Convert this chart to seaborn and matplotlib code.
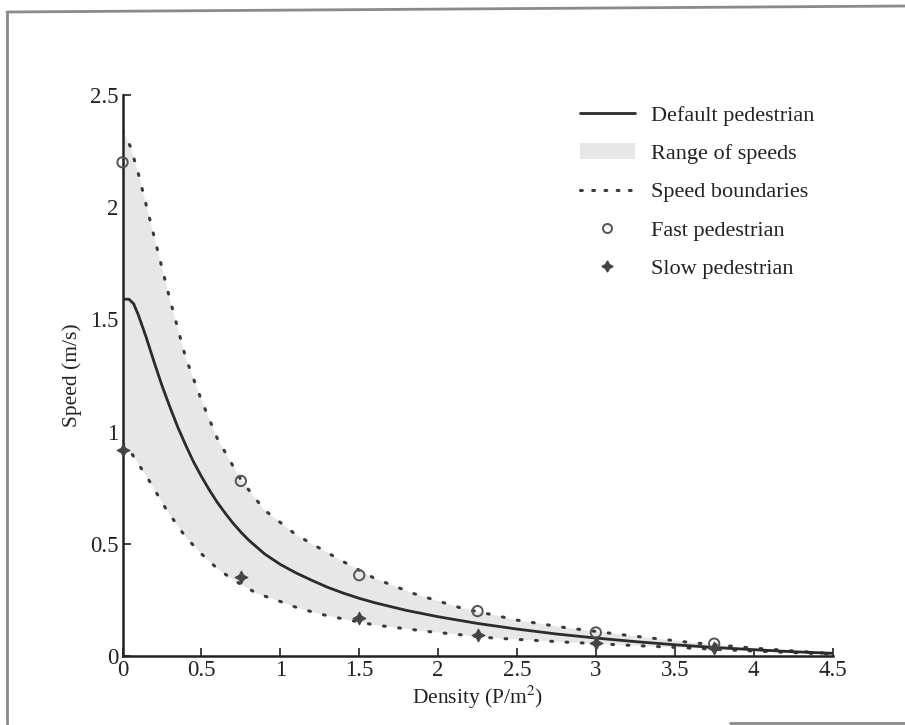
import numpy as np
import pandas as pd
import matplotlib
matplotlib.use("Agg")
import matplotlib.pyplot as plt
from matplotlib.lines import Line2D
from matplotlib.patches import Patch
import seaborn as sns

# default pedestrian curve
density = [0, 0.04, 0.07, 0.1, 0.15, 0.2, 0.25, 0.3, 0.35, 0.4, 0.45, 0.5, 0.55, 0.6, 0.65, 0.7, 0.75,
           0.8, 0.9, 1.0, 1.1, 1.2, 1.3, 1.4, 1.5, 1.6, 1.8, 2.0, 2.25, 2.5, 2.75, 3.0, 3.25, 3.5,
           3.75, 4.0, 4.25, 4.5]
speed = [1.59, 1.59, 1.57, 1.52, 1.42, 1.31, 1.205, 1.11, 1.02, 0.94, 0.865, 0.80, 0.74, 0.685, 0.637,
         0.592, 0.552, 0.516, 0.455, 0.408, 0.37, 0.337, 0.306, 0.28, 0.257, 0.237, 0.203, 0.175, 0.145,
         0.12, 0.098, 0.08, 0.064, 0.05, 0.038, 0.028, 0.019, 0.012]

# speed boundaries
d_upper = [0, 0.05, 0.1, 0.2, 0.3, 0.4, 0.5, 0.6, 0.75, 0.9, 1.1, 1.4, 1.6, 1.85, 2.15, 2.5, 2.8, 3.2, 3.6, 4.0, 4.5]
v_upper = [2.34, 2.27, 2.15, 1.87, 1.59, 1.33, 1.14, 0.97, 0.785, 0.65, 0.54, 0.42, 0.345, 0.277, 0.213, 0.16,
           0.127, 0.092, 0.06, 0.035, 0.01]
d_lower = [0, 0.06, 0.17, 0.28, 0.4, 0.5, 0.6, 0.7, 0.85, 1.0, 1.1, 1.25, 1.4, 1.6, 1.95, 2.35, 2.8, 3.2, 3.6, 4.0, 4.5]
v_lower = [0.95, 0.9, 0.78, 0.65, 0.53, 0.455, 0.39, 0.34, 0.279, 0.243, 0.217, 0.187, 0.165, 0.138, 0.108, 0.08,
           0.062, 0.048, 0.035, 0.022, 0.008]

# sample pedestrians
d_samples = [0, 0.75, 1.5, 2.25, 3.0, 3.75]
v_fast = [2.2, 0.78, 0.36, 0.2, 0.105, 0.055]
v_slow = [0.92, 0.35, 0.168, 0.095, 0.06, 0.035]

x_ticks = [0, 0.5, 1, 1.5, 2, 2.5, 3, 3.5, 4, 4.5]
y_ticks = [0, 0.5, 1, 1.5, 2, 2.5]

sns.set_style("ticks")
plt.rcParams['font.family'] = ['Liberation Serif', 'DejaVu Serif']
plt.rcParams['mathtext.fontset'] = 'stix'

fig = plt.figure(figsize=(9.05, 7.25), dpi=100)
ax = fig.add_axes([0.1354, 0.0952, 0.7845, 0.7738])

line_col = '#2b2b2b'
dot_col = '#3a3a3a'
fill_col = '#e7e7e7'
txt_col = '#222222'
dots = (0, (0.6, 4.4))

# shaded range between the two boundaries
poly_x = np.concatenate([d_upper, d_lower[::-1]])
poly_y = np.concatenate([v_upper, v_lower[::-1]])
ax.fill(poly_x, poly_y, color=fill_col, lw=0, zorder=1)

df_up = pd.DataFrame({'d': d_upper, 'v': v_upper})
df_lo = pd.DataFrame({'d': d_lower, 'v': v_lower})
sns.lineplot(data=df_up, x='d', y='v', ax=ax, color=dot_col, lw=2.2, linestyle=dots,
             dash_capstyle='round', sort=False, zorder=2)
sns.lineplot(data=df_lo, x='d', y='v', ax=ax, color=dot_col, lw=2.2, linestyle=dots,
             dash_capstyle='round', sort=False, zorder=2)

df_def = pd.DataFrame({'d': density, 'v': speed})
sns.lineplot(data=df_def, x='d', y='v', ax=ax, color=line_col, lw=2.0, sort=False, zorder=3)

df_pts = pd.DataFrame({'d': d_samples, 'fast': v_fast, 'slow': v_slow})
sns.scatterplot(data=df_pts, x='d', y='fast', ax=ax, marker='o', s=55, facecolor='none',
                edgecolor='#555555', linewidth=1.4, zorder=4, clip_on=False)
sns.scatterplot(data=df_pts, x='d', y='slow', ax=ax, marker=(4, 1, 0), s=90, color='#444444',
                edgecolor='#444444', linewidth=0.6, zorder=4, clip_on=False)

ax.set_xlim(0, 4.5)
ax.set_ylim(0, 2.5)
ax.set_xticks(x_ticks)
ax.set_xticklabels(['0', '0.5', '1', '1.5', '2', '2.5', '3', '3.5', '4', '4.5'])
ax.set_yticks(y_ticks)
ax.set_yticklabels(['0', '0.5', '1', '1.5', '2', '2.5'])
ax.tick_params(direction='in', length=6, width=1.2, labelsize=16.5, colors=txt_col, pad=3)
for side in ['top', 'right']:
    ax.spines[side].set_visible(False)
for side in ['left', 'bottom']:
    ax.spines[side].set_linewidth(1.8)
    ax.spines[side].set_color(txt_col)

ax.set_xlabel('Density (P/m$^2$)', fontsize=15.5, color=txt_col, labelpad=2)
ax.set_ylabel('Speed (m/s)', fontsize=15.5, color=txt_col, labelpad=6)

handles = [
    Line2D([], [], color=line_col, lw=2.0),
    Patch(facecolor=fill_col, edgecolor='none'),
    Line2D([], [], color=dot_col, lw=2.2, linestyle=(0, (0.6, 3.4)), dash_capstyle='round'),
    Line2D([], [], color='none', marker='o', markersize=6.5, markerfacecolor='none',
           markeredgecolor='#555555', markeredgewidth=1.4),
    Line2D([], [], color='none', marker=(4, 1, 0), markersize=8, markerfacecolor='#444444',
           markeredgecolor='#444444'),
]
labels = ['Default pedestrian', 'Range of speeds', 'Speed boundaries', 'Fast pedestrian', 'Slow pedestrian']
leg = ax.legend(handles, labels, loc='upper left', bbox_to_anchor=(0.641, 0.855),
                bbox_transform=fig.transFigure, frameon=False, fontsize=16, handlelength=2.45,
                handletextpad=0.75, labelspacing=0.8, borderpad=0, borderaxespad=0)
for t in leg.get_texts():
    t.set_color(txt_col)

# scanned page frame
frame_col = '#8a8a8a'
fig.add_artist(Line2D([7 / 905, 905 / 905], [1 - 12 / 725, 1 - 6 / 725], transform=fig.transFigure,
                      color=frame_col, lw=2))
fig.add_artist(Line2D([7 / 905, 7 / 905], [1 - 12 / 725, 1 - 724 / 725], transform=fig.transFigure,
                      color=frame_col, lw=2))
fig.add_artist(Line2D([730 / 905, 905 / 905], [1 - 723 / 725, 1 - 723 / 725], transform=fig.transFigure,
                      color=frame_col, lw=2))

fig.savefig('out.png', dpi=100)
